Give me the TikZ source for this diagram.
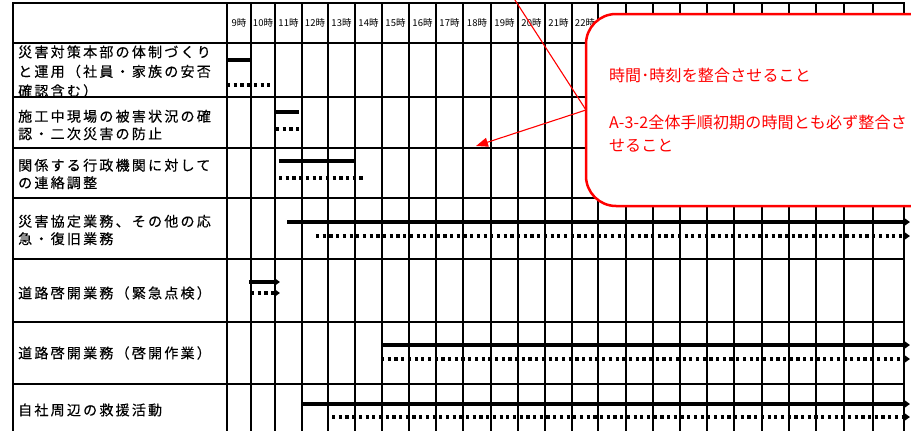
\documentclass[tikz,border=0pt]{standalone}
\usepackage{fontspec}
\newfontfamily\jpfont[LetterSpace=16, FakeBold=0.4]{Noto Sans CJK JP}
\newfontfamily\jpplain{Noto Sans CJK JP}
\newfontfamily\jpnote[LetterSpace=1]{Noto Sans CJK JP}
\usetikzlibrary{arrows.meta, positioning, calc}

\begin{document}
\begin{tikzpicture}[x=1pt, y=-1pt,
  grid/.style={line width=2.8pt, line cap=rect},
  plan/.style={line width=3.2pt},
  actual/.style={line width=3.2pt, dash pattern=on 3.2pt off 3.5pt},
  go/.style={-{Triangle[length=6pt,width=8pt]}},
  task/.style={anchor=west, inner sep=0pt, align=left, font=\jpfont\fontsize{14}{17.5}\selectfont},
  hour/.style={inner sep=0pt, font=\jpplain\fontsize{9.5}{9.5}\selectfont},
  memo/.style={draw=red, line width=2.5pt, fill=white, rounded corners=30pt, outer sep=0pt,
    minimum height=192pt, text width=340pt, inner xsep=23pt, align=left, text=red,
    font=\jpnote\fontsize{16}{23.5}\selectfont},
  leader/.style={red, line width=1.1pt}]
\useasboundingbox (0,0) rectangle (911,431);
\clip (0,0) rectangle (911,431);
% task labels
\node[task, font=\jpfont\fontsize{14}{19.5}\selectfont] (t1) at (18,71.5) {災害対策本部の体制づくり\\と運用（社員・家族の安否\\確認含む）};
\node[task] (t2) at (18,125) {施工中現場の被害状況の確\\認・二次災害の防止};
\node[task] (t3) at (18,174) {関係する行政機関に対して\\の連絡調整};
\node[task] (t4) at (18,230) {災害協定業務、その他の応\\急・復旧業務};
\node[task] (t5) at (18,293) {道路啓開業務（緊急点検）};
\node[task] (t6) at (18,353) {道路啓開業務（啓開作業）};
\node[task] (t7) at (18,410) {自社周辺の救援活動};
% hours
\foreach \h/\xa/\xb in {9/227/251, 10/251/275, 11/275/302, 12/302/328, 13/328/355,
    14/355/382, 15/382/409, 16/409/436, 17/436/463, 18/463/491, 19/491/518,
    20/518/545, 21/545/572, 22/572/598}
  \node[hour] (h\h) at ({(\xa+\xb)/2},23) {\h{}時};
% grid
\foreach \x in {13,227,251,275,302,328,355,382,409,436,463,491,518,545,572,598,
    626,653,680,707,734,762,789,816,844,873,904}
  \draw[grid] (\x,3) -- (\x,440);
\foreach \y in {3,43,97,148,198,259,322,384}
  \draw[grid] (13,\y) -- (904,\y);
% plan
\foreach \y/\xa/\xb in {60/227/250, 112/276/299, 161/279/354}
  \draw[plan] (\xa,\y) -- (\xb,\y);
\foreach \y/\xa/\xb in {222/287/910, 282/249/280, 345/381/910, 404/302/910}
  \draw[plan, go] (\xa,\y) -- (\xb,\y);
% actual
\foreach \y/\xa/\xb in {85/227/273, 129/276/301, 178/279/363}
  \draw[actual] (\xa,\y) -- (\xb,\y);
\foreach \y/\xa/\xb in {236/316/910, 293/251/280, 359/381/910, 417/332/910}
  \draw[actual, go] (\xa,\y) -- (\xb,\y);
% callout
\node[memo, anchor=west] (note) at (586,110) {時間･時刻を整合させること\\[23.5pt]A-3-2全体手順初期の時間とも必ず整合さ\\せること};
\coordinate (up) at (513,-3);
\coordinate (aim) at (476,146);
\draw[leader] (note.west) -- (up);
\draw[leader, -{Triangle[length=12pt,width=9pt]}] (note.west) -- (aim);
\end{tikzpicture}
\end{document}
